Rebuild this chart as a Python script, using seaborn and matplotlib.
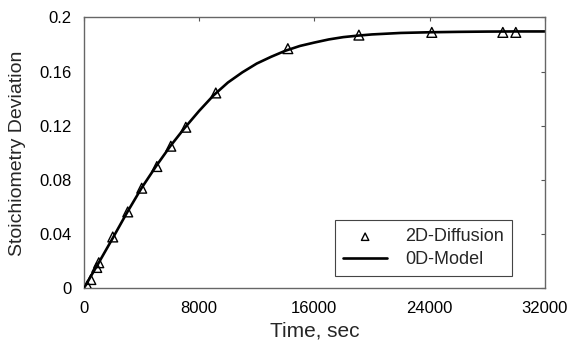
import numpy as np
import pandas as pd
import matplotlib
matplotlib.use("Agg")
import matplotlib.pyplot as plt
import seaborn as sns

# 2D-Diffusion data points
diff_time = [250, 490, 900, 1040, 2010, 3050, 4020, 5070, 6040, 7080, 9160,
             14160, 19090, 24150, 29080, 29980]
diff_dev = [0.002, 0.0066, 0.0155, 0.019, 0.038, 0.0565, 0.074, 0.090, 0.105,
            0.119, 0.1443, 0.177, 0.187, 0.189, 0.189, 0.189]

# 0D-Model curve
model_time = [0, 500, 1000, 2000, 3000, 4000, 5000, 6000, 7000, 8000, 9000,
              10000, 11000, 12000, 13000, 14000, 15000, 16000, 17000, 18000,
              19000, 20000, 22000, 24000, 26000, 28000, 30000, 32000]
model_dev = [0.0, 0.0092, 0.0183, 0.0370, 0.0560, 0.0740, 0.0900, 0.1050,
             0.1185, 0.1310, 0.1425, 0.1520, 0.1595, 0.1660, 0.1710, 0.1755,
             0.1790, 0.1815, 0.1838, 0.1855, 0.1866, 0.1875, 0.1886, 0.1891,
             0.1894, 0.1896, 0.1897, 0.1897]

x_ticks = [0, 8000, 16000, 24000, 32000]
y_ticks = [0, 0.04, 0.08, 0.12, 0.16, 0.2]
y_tick_labels = ["0", "0.04", "0.08", "0.12", "0.16", "0.2"]

sns.set_theme(style="white")
plt.rcParams['font.family'] = ['Liberation Sans', 'DejaVu Sans']

fig = plt.figure(figsize=(5.7, 3.43), dpi=100)
ax = fig.add_axes([0.147, 0.159, 0.809, 0.790])

df_d = pd.DataFrame({"t": diff_time, "v": diff_dev})
df_m = pd.DataFrame({"t": model_time, "v": model_dev})

sns.lineplot(data=df_m, x="t", y="v", ax=ax, color="black", linewidth=1.9,
             label="0D-Model", zorder=2)
sns.scatterplot(data=df_d, x="t", y="v", ax=ax, marker="^", s=50,
                facecolor="none", edgecolor="black", linewidth=1.0,
                label="2D-Diffusion", zorder=3)

ax.set_xlim(0, 32000)
ax.set_ylim(0, 0.2)
ax.set_xticks(x_ticks)
ax.set_xticklabels([str(t) for t in x_ticks])
ax.set_yticks(y_ticks)
ax.set_yticklabels(y_tick_labels)
ax.tick_params(axis="both", direction="in", length=3, width=0.8, colors="#555555",
               labelcolor="black", labelsize=12, top=True, right=True)
ax.tick_params(axis="x", pad=9)
ax.tick_params(axis="y", pad=9)
for sp in ax.spines.values():
    sp.set_visible(True)
    sp.set_color("#666666")
    sp.set_linewidth(1.0)

ax.set_xlabel("Time, sec", fontsize=15, labelpad=4)
ax.set_ylabel("Stoichiometry Deviation", fontsize=14, labelpad=9)

handles, labels = ax.get_legend_handles_labels()
order = [labels.index("2D-Diffusion"), labels.index("0D-Model")]
leg = ax.legend([handles[i] for i in order], [labels[i] for i in order],
                loc="lower right", bbox_to_anchor=(0.928, 0.046), borderaxespad=0,
                fontsize=13, frameon=True, fancybox=False, edgecolor="#444444",
                framealpha=1, handlelength=2.4, borderpad=0.45, markerscale=0.75,
                labelspacing=0.3, handletextpad=1.0)
leg.get_frame().set_linewidth(0.8)

fig.savefig("out.png", dpi=100)
